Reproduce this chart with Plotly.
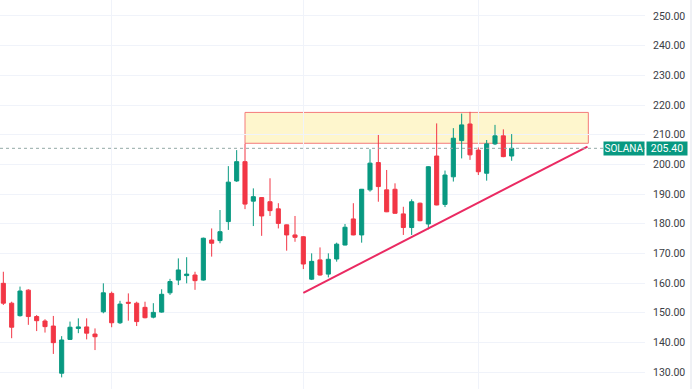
import plotly.graph_objects as go

# ---- data ----
idx = list(range(62))
opens = [159.9, 153.2, 149.0, 157.6, 148.7, 147.2, 145.5, 129.6, 141.0, 144.7,
         145.2, 142.8, 150.3, 156.5, 146.6, 153.5, 153.2, 151.8, 148.5, 150.2,
         156.7, 161.0, 162.5, 162.7, 161.0, 174.5, 174.3, 180.7, 194.4, 200.9,
         187.6, 188.8, 187.4, 185.0, 179.6, 176.2, 175.6, 161.3, 167.8, 163.0,
         168.1, 172.8, 181.6, 176.2, 191.4, 200.6, 191.4, 191.6, 183.3, 178.7,
         186.9, 179.9, 202.8, 186.5, 195.8, 208.0, 213.6, 204.8, 197.0, 206.9,
         209.6, 202.8]
highs = [163.8, 153.7, 158.8, 157.9, 149.2, 147.8, 148.9, 142.1, 147.0, 148.1,
         148.1, 144.7, 159.9, 157.1, 154.0, 156.5, 153.7, 153.7, 153.2, 157.9,
         161.4, 168.3, 168.7, 163.8, 175.3, 178.4, 184.6, 199.4, 204.8, 207.0,
         191.9, 188.9, 195.3, 186.9, 179.7, 182.6, 175.8, 170.0, 172.0, 170.0,
         173.6, 179.9, 186.9, 191.7, 205.1, 209.9, 198.1, 193.6, 185.7, 188.2,
         187.1, 199.4, 213.8, 197.9, 212.2, 217.1, 217.7, 205.7, 208.2, 213.3,
         211.8, 210.2]
lows = [152.6, 141.4, 148.7, 145.9, 143.8, 143.3, 136.1, 128.2, 140.8, 143.1,
        141.0, 137.4, 149.8, 145.1, 146.2, 147.3, 145.5, 148.1, 148.1, 150.0,
        156.0, 159.3, 159.9, 157.7, 160.8, 168.9, 173.4, 177.9, 194.1, 184.9,
        179.2, 175.9, 182.6, 178.4, 170.9, 173.9, 164.7, 161.0, 162.5, 161.9,
        167.2, 172.7, 176.1, 173.6, 190.8, 187.4, 183.9, 183.4, 176.2, 176.2,
        180.8, 178.1, 186.2, 185.6, 194.2, 202.0, 201.5, 196.4, 194.5, 206.5,
        202.4, 201.2]
closes = [153.2, 145.1, 157.3, 148.7, 147.3, 145.3, 139.9, 140.8, 145.1, 145.2,
          143.1, 141.9, 156.7, 146.6, 152.9, 153.2, 147.0, 148.3, 150.1, 156.2,
          160.5, 164.4, 163.0, 160.8, 175.1, 173.4, 177.3, 194.0, 200.9, 186.6,
          189.1, 182.6, 184.4, 180.1, 176.2, 175.4, 166.4, 167.3, 162.7, 168.0,
          173.1, 178.8, 176.2, 191.6, 200.4, 192.5, 184.0, 183.5, 178.7, 187.4,
          181.0, 199.2, 186.3, 196.4, 208.8, 213.3, 203.2, 197.5, 206.9, 209.6,
          202.6, 205.4]

y_ticks = [130, 140, 150, 160, 170, 180, 190, 200, 210, 220, 230, 240, 250]
x_grid = [13, 36, 57]

zone_x = [29, 70.2]
zone_y = [207.1, 217.5]
trend_x = [36, 70.1]
trend_y = [156.7, 206.0]

symbol = "SOLANA"
last_price = 205.40

GREEN = "#089981"
RED = "#f23645"
GRID = "#f0f3fa"

fig = go.Figure()
fig.add_trace(go.Candlestick(
    x=idx, open=opens, high=highs, low=lows, close=closes,
    increasing=dict(line=dict(color=GREEN, width=1), fillcolor=GREEN),
    decreasing=dict(line=dict(color=RED, width=1), fillcolor=RED),
    hoverinfo="skip", showlegend=False,
))

# resistance zone
fig.add_shape(type="rect", x0=zone_x[0], x1=zone_x[1], y0=zone_y[0], y1=zone_y[1],
              xref="x", yref="y", fillcolor="rgba(251,226,90,0.30)",
              line=dict(color="#f47a7a", width=1), layer="below")
# rising trendline
fig.add_trace(go.Scatter(x=trend_x, y=trend_y, mode="lines",
                         line=dict(color="#ea2a62", width=2),
                         hoverinfo="skip", showlegend=False))
# last price dotted line
fig.add_shape(type="line", xref="paper", x0=0, x1=1, yref="y",
              y0=last_price, y1=last_price,
              line=dict(color="#93aaa6", width=1, dash="dot"))
# right border of price scale
fig.add_shape(type="line", xref="paper", x0=691 / 645, x1=691 / 645,
              yref="paper", y0=0, y1=1, line=dict(color="#e0e3eb", width=1))

fig.add_annotation(xref="paper", x=623.5 / 645, yref="y", y=last_price,
                   text=symbol, showarrow=False, bgcolor=GREEN,
                   font=dict(color="white", size=10, family="Roboto"),
                   width=38, height=11, borderpad=1,
                   xanchor="center", yanchor="middle")
fig.add_annotation(xref="paper", x=667.2 / 645, yref="y", y=last_price,
                   text=f"{last_price:.2f}", showarrow=False, bgcolor=GREEN,
                   font=dict(color="white", size=10.5, family="Roboto"),
                   width=38, height=11, borderpad=1,
                   xanchor="center", yanchor="middle")

fig.update_layout(
    width=700, height=389,
    margin=dict(l=0, r=55, t=0, b=0),
    paper_bgcolor="white", plot_bgcolor="white",
    showlegend=False,
    xaxis=dict(range=[-0.4, 77.0], rangeslider=dict(visible=False),
               tickvals=x_grid, showticklabels=False, showgrid=True,
               gridcolor=GRID, zeroline=False, showline=False, fixedrange=True),
    yaxis=dict(side="right", range=[124.28, 255.39], tickvals=y_ticks,
               tickformat=".2f", showgrid=True, gridcolor=GRID, zeroline=False,
               showline=False, ticks="", ticklabelstandoff=7,
               tickfont=dict(size=10.5, color="#3a3d45", family="Roboto")),
)

fig.write_html("out.html", config={"displayModeBar": False},
               post_script="document.body.style.margin='0';document.body.style.overflow='hidden';")
